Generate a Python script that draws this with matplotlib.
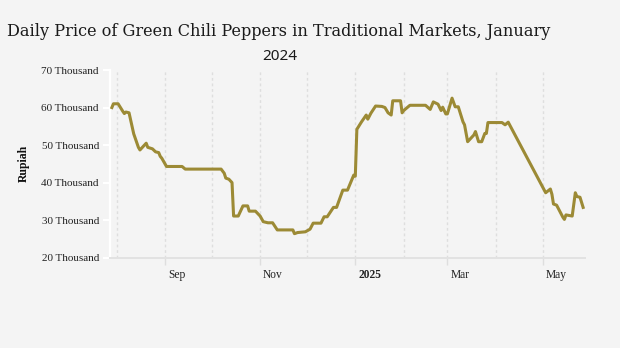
import numpy as np
import pandas as pd
import matplotlib
matplotlib.use("Agg")
import matplotlib.pyplot as plt
import matplotlib.dates as mdates
import matplotlib.transforms as mtransforms


""" Data read off the chart (price in thousand rupiah) """
dates = ["2024-07-29", "2024-07-30", "2024-08-02", "2024-08-05", "2024-08-06",
         "2024-08-07", "2024-08-09", "2024-08-12", "2024-08-15", "2024-08-16",
         "2024-08-20", "2024-08-21", "2024-08-24", "2024-08-26", "2024-08-28",
         "2024-08-29", "2024-08-30", "2024-09-02", "2024-09-12", "2024-09-14",
         "2024-10-07", "2024-10-09", "2024-10-10", "2024-10-12", "2024-10-14",
         "2024-10-15", "2024-10-18", "2024-10-21", "2024-10-24", "2024-10-25",
         "2024-10-29", "2024-11-01", "2024-11-03", "2024-11-06", "2024-11-09",
         "2024-11-12", "2024-11-22", "2024-11-23", "2024-11-25", "2024-11-30",
         "2024-12-03", "2024-12-05", "2024-12-10", "2024-12-12", "2024-12-14",
         "2024-12-18", "2024-12-20", "2024-12-24", "2024-12-27", "2024-12-31",
         "2025-01-01", "2025-01-02", "2025-01-05", "2025-01-08", "2025-01-09",
         "2025-01-11", "2025-01-14", "2025-01-18", "2025-01-20", "2025-01-22",
         "2025-01-24", "2025-01-25", "2025-01-30", "2025-01-31", "2025-02-01",
         "2025-02-05", "2025-02-15", "2025-02-18", "2025-02-20", "2025-02-23",
         "2025-02-25", "2025-02-26", "2025-02-28", "2025-03-01", "2025-03-04",
         "2025-03-06", "2025-03-08", "2025-03-11", "2025-03-12", "2025-03-14",
         "2025-03-18", "2025-03-19", "2025-03-21", "2025-03-23", "2025-03-25",
         "2025-03-26", "2025-03-27", "2025-04-05", "2025-04-07", "2025-04-09",
         "2025-05-03", "2025-05-06", "2025-05-07", "2025-05-08", "2025-05-10",
         "2025-05-14", "2025-05-15", "2025-05-16", "2025-05-20", "2025-05-22",
         "2025-05-23", "2025-05-25", "2025-05-27"]
price = [60.0, 61.0, 61.0, 59.0, 58.4,
         58.8, 58.6, 53.0, 49.4, 48.7,
         50.5, 49.4, 49.0, 48.2, 48.0,
         47.0, 46.5, 44.3, 44.3, 43.6,
         43.6, 42.5, 41.2, 40.9, 40.0,
         31.1, 31.1, 33.8, 33.8, 32.4,
         32.4, 31.1, 29.6, 29.3, 29.3,
         27.4, 27.4, 26.4, 26.7, 26.9,
         27.6, 29.2, 29.2, 30.9, 30.9,
         33.4, 33.4, 38.0, 38.0, 42.0,
         41.7, 54.2, 56.2, 58.0, 56.9,
         58.5, 60.4, 60.3, 60.0, 58.6,
         58.0, 61.8, 61.8, 58.6, 59.2,
         60.6, 60.6, 59.5, 61.5, 60.9,
         59.2, 60.1, 58.3, 58.3, 62.5,
         60.2, 60.2, 56.2, 55.4, 50.9,
         52.7, 53.6, 50.9, 50.9, 53.1,
         53.1, 56.0, 56.0, 55.4, 56.1,
         37.3, 38.3, 36.9, 34.3, 34.0,
         30.8, 30.2, 31.4, 31.1, 37.3,
         36.3, 36.1, 33.4]

yticks = [20, 30, 40, 50, 60, 70]
ytick_labels = [f"{v} Thousand" for v in yticks]
month_starts = pd.date_range("2024-08-01", "2025-05-01", freq="MS")
label_months = ["2024-09-01", "2024-11-01", "2025-01-01", "2025-03-01", "2025-05-01"]
label_texts = ["Sep", "Nov", "2025", "Mar", "May"]

t = pd.to_datetime(dates)
bg = "#f4f4f4"
lineColor = "#9c8a35"

# -----------------------------------------------------------------------------
f = plt.figure(figsize=(6.2, 3.48), dpi=100, facecolor=bg)
ax = f.add_axes([110/620, 1 - 257.7/348, 475/620, 187.7/348], facecolor=bg)

ax.plot(t, price, color=lineColor, linewidth=2.2, solid_joinstyle="round", zorder=3)

# axes range
x0 = mdates.date2num(pd.Timestamp("2024-08-01"))
ax.set_xlim(x0 - 4.2, x0 + 300.2)
ax.set_ylim(20, 70)

# vertical dotted grid at month starts
for m in month_starts:
    ax.axvline(m, color="#dedede", linewidth=1.0, linestyle=(0, (2, 2)), zorder=1)

# x ticks
ax.set_xticks(pd.to_datetime(label_months))
ax.set_xticklabels(label_texts, fontfamily="Liberation Serif", fontsize=8.3, color="#222222")
ax.tick_params(axis="x", length=5, width=1, color="#dedede", pad=3)
offset = mtransforms.ScaledTranslation(3/100, 0, f.dpi_scale_trans)
for lab in ax.get_xticklabels():
    lab.set_horizontalalignment("left")
    lab.set_transform(lab.get_transform() + offset)
    if lab.get_text() == "2025":
        lab.set_fontweight("bold")

# y ticks
ax.set_yticks(yticks)
ax.set_yticklabels(ytick_labels, fontfamily="Liberation Serif", fontsize=8, color="#222222")
ax.tick_params(axis="y", length=5, width=1.5, color="white", pad=3)
ax.set_ylabel("Rupiah", fontfamily="Liberation Serif", fontsize=8.5, fontweight="bold",
              color="#111111", labelpad=8)

for s in ["top", "right"]:
    ax.spines[s].set_visible(False)
ax.spines["left"].set_color("white")
ax.spines["left"].set_linewidth(1.6)
ax.spines["bottom"].set_color("#e2e2e2")
ax.spines["bottom"].set_linewidth(1.4)

# title
f.text(6.7/620, 1 - 36/348, "Daily Price of Green Chili Peppers in Traditional Markets, January",
       fontfamily="DejaVu Serif", fontsize=11.6, color="#1a1a1a", va="baseline", ha="left")
f.text(279.5/620, 1 - 60/348, "2024", fontfamily="Noto Sans", fontsize=11,
       color="#1a1a1a", va="baseline", ha="center")

f.savefig("out.png", dpi=100, facecolor=bg)
